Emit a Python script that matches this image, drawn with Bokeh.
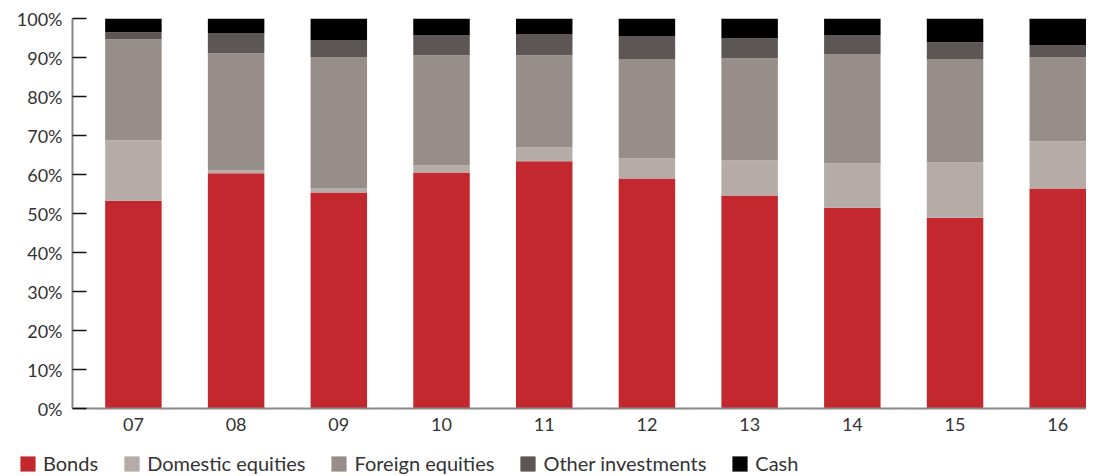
from bokeh.plotting import figure
from bokeh.models import ColumnDataSource, Range1d, Legend, LegendItem, FixedTicker
from bokeh.layouts import column, row
from bokeh.embed import file_html
from bokeh.resources import INLINE

years = ["07", "08", "09", "10", "11", "12", "13", "14", "15", "16"]
bonds = [53.3, 60.3, 55.4, 60.5, 63.4, 59.0, 54.6, 51.5, 48.9, 56.4]
domestic = [15.5, 0.8, 1.0, 1.8, 3.5, 5.1, 9.0, 11.3, 14.2, 12.1]
foreign = [25.9, 30.0, 33.7, 28.3, 23.7, 25.5, 26.2, 28.1, 26.5, 21.6]
other = [1.8, 5.2, 4.4, 5.2, 5.4, 5.9, 5.2, 4.9, 4.3, 3.1]
cash = [3.5, 3.7, 5.5, 4.2, 4.0, 4.5, 5.0, 4.2, 6.1, 6.8]

series = ["Bonds", "Domestic equities", "Foreign equities", "Other investments", "Cash"]
colors = ["#C4282F", "#B5ABA7", "#978E8A", "#5C5655", "#000000"]

xs = list(range(len(years)))
source = ColumnDataSource(dict(x=xs, Bonds=bonds, **{"Domestic equities": domestic,
                                                      "Foreign equities": foreign,
                                                      "Other investments": other,
                                                      "Cash": cash}))

p = figure(frame_width=1014, frame_height=390, output_backend="svg", toolbar_location=None,
           x_range=Range1d(-0.593, 9.28), y_range=Range1d(0, 100),
           min_border_left=72, min_border_right=0, min_border_top=18, min_border_bottom=40)

renderers = p.vbar_stack(series, x="x", width=0.55, color=colors, line_color=None, source=source)

p.grid.visible = False
p.outline_line_color = None
p.background_fill_color = "white"

FONT = "Lato"
# y axis
ya = p.yaxis[0]
ya.ticker = FixedTicker(ticks=[0, 10, 20, 30, 40, 50, 60, 70, 80, 90, 100])
ya.major_label_overrides = {v: f"{v}%" for v in range(0, 101, 10)}
ya.major_tick_in = 14
ya.major_tick_out = 0
ya.minor_tick_line_color = None
ya.major_tick_line_color = "#111111"
ya.major_tick_line_width = 1.5
ya.axis_line_color = "#888888"
ya.axis_line_width = 2
ya.major_label_text_font = FONT
ya.major_label_text_font_size = "18px"
ya.major_label_text_color = "#333333"
ya.major_label_standoff = 10

# x axis
xa = p.xaxis[0]
xa.ticker = FixedTicker(ticks=xs)
xa.major_label_overrides = {i: y for i, y in enumerate(years)}
xa.major_tick_line_color = None
xa.minor_tick_line_color = None
xa.major_tick_out = 0
xa.major_tick_in = 0
xa.minor_tick_out = 0
xa.axis_line_color = "#888888"
xa.axis_line_width = 2
xa.major_label_text_font = FONT
xa.major_label_text_font_size = "18px"
xa.major_label_text_color = "#333333"
xa.major_label_standoff = 9

# legend in its own strip below the chart (same data, drawn out of view)
lg = figure(width=1086, height=28, output_backend="svg", toolbar_location=None,
            x_axis_type=None, y_axis_type=None,
            x_range=Range1d(-0.593, 9.28), y_range=Range1d(200, 300),
            min_border_left=0, min_border_right=0, min_border_top=0, min_border_bottom=0)
lg.outline_line_color = None
lg.grid.visible = False
swatches = lg.vbar_stack(series, x="x", width=0.55, color=colors, line_color=None, source=source)
legend = Legend(items=[LegendItem(label=s, renderers=[r]) for s, r in zip(series, swatches)],
                orientation="horizontal", location=(18, 1))
legend.label_text_font = FONT
legend.label_text_font_size = "20px"
legend.label_text_color = "#333333"
legend.glyph_width = 19
legend.glyph_height = 19
legend.label_standoff = 6
legend.spacing = 24
legend.padding = 0
legend.margin = 0
legend.border_line_color = None
legend.background_fill_alpha = 0
legend.label_height = 19
lg.add_layout(legend, "center")

layout = column(p, row(lg), spacing=0)
open("out.html", "w").write(file_html(layout, INLINE))
